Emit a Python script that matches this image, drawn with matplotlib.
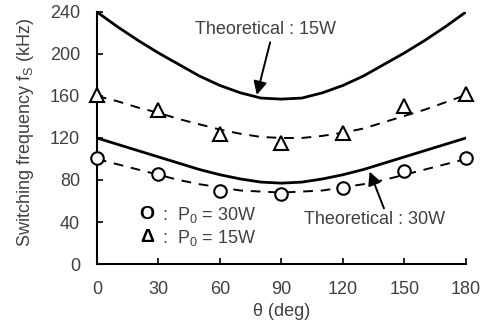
import numpy as np
import matplotlib
matplotlib.use('Agg')
import matplotlib.pyplot as plt

plt.rcParams['font.family'] = ['Liberation Sans', 'DejaVu Sans']

# measured points
theta_meas = [0, 30, 60, 90, 120, 150, 180]
fs_30W = [101, 86, 70, 67, 72, 89, 101]
fs_15W = [161, 147, 124, 115, 125, 150, 162]

# curves (every 10 deg)
theta_c = [0, 10, 20, 30, 40, 50, 60, 70, 80, 90,
           100, 110, 120, 130, 140, 150, 160, 170, 180]
theo_15W = [240, 226, 213, 201, 190, 179, 170, 163, 158, 157,
            158, 163, 170, 179, 190, 201, 213, 226, 240]
theo_30W = [120, 114, 108, 102, 96, 90, 85, 81, 78, 77,
            78, 81, 85, 90, 96, 102, 108, 114, 120]
fit_15W = [160, 155, 149, 144, 138, 133, 128, 124, 121, 120,
           120, 122, 125, 129, 135, 141, 147, 154, 161]
fit_30W = [100, 95, 90, 85, 80, 76, 73, 70, 69, 68,
           69, 70, 73, 76, 80, 85, 90, 95, 100]

txt = '#404040'
fs = 13

fig = plt.figure(figsize=(4.89, 3.22), dpi=100)
ax = fig.add_axes([0.198, 0.180, 0.755, 0.783])

ax.plot(theta_c, theo_15W, color='black', lw=2, zorder=3)
ax.plot(theta_c, theo_30W, color='black', lw=2, zorder=3)
ax.plot(theta_c, fit_15W, color='black', lw=1.4, ls=(0, (5, 4)), zorder=2)
ax.plot(theta_c, fit_30W, color='black', lw=1.4, ls=(0, (5, 4)), zorder=2)
ax.plot(theta_meas, fs_15W, ls='none', marker='^', ms=10, mfc='white',
        mec='black', mew=1.5, zorder=4, clip_on=False)
ax.plot(theta_meas, fs_30W, ls='none', marker='o', ms=9, mfc='white',
        mec='black', mew=1.5, zorder=4, clip_on=False)

ax.set_xlim(0, 180)
ax.set_ylim(0, 240)
ax.set_xticks(np.arange(0, 181, 30))
ax.set_yticks(np.arange(0, 241, 40))
for s in ['top', 'right']:
    ax.spines[s].set_visible(False)
for s in ['left', 'bottom']:
    ax.spines[s].set_linewidth(1.5)
ax.tick_params(direction='in', length=4, width=1.2, labelsize=fs,
               labelcolor=txt, pad=12)

ax.set_xlabel('θ (deg)', fontsize=fs, color=txt)
ax.set_ylabel('Switching frequency f$_\\mathregular{S}$ (kHz)', fontsize=fs,
              color=txt)
ax.xaxis.set_label_coords(0.5, -0.155)
ax.yaxis.set_label_coords(-0.165, 0.52)

arrow = dict(arrowstyle='-|>', color='black', lw=1.4,
             mutation_scale=20, shrinkA=0, shrinkB=0)
ax.text(48, 223, 'Theoretical : 15W', fontsize=fs, color=txt, va='center')
ax.annotate('', xy=(78, 161), xytext=(84.5, 211), arrowprops=arrow)
ax.text(101, 42, 'Theoretical : 30W', fontsize=fs, color=txt, va='center')
ax.annotate('', xy=(133, 88), xytext=(140, 53), arrowprops=arrow)

# legend
ax.text(24.5, 47, 'O', fontsize=14, fontweight='bold', ha='center', va='center')
ax.text(24.5, 25, 'Δ', fontsize=14, fontweight='bold', ha='center', va='center')
ax.text(32, 47, ':  P$_\\mathregular{0}$ = 30W', fontsize=fs, color=txt, va='center')
ax.text(32, 25, ':  P$_\\mathregular{0}$ = 15W', fontsize=fs, color=txt, va='center')

fig.savefig('out.png', dpi=100)
